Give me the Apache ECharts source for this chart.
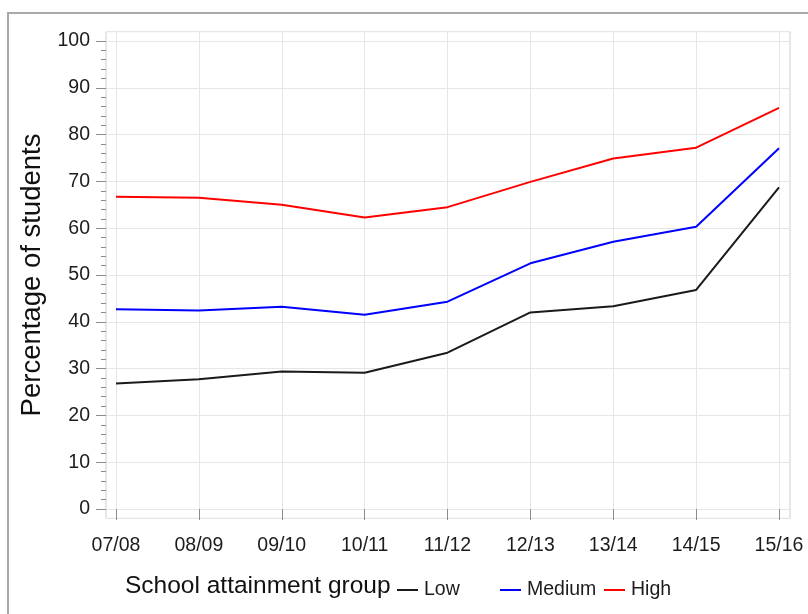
<!DOCTYPE html>
<html>
<head>
<meta charset="utf-8">
<script src="https://cdn.jsdelivr.net/npm/echarts@6/dist/echarts.min.js"></script>
<style>
html,body{margin:0;padding:0;background:#fff;}
#chart{width:808px;height:614px;}
</style>
</head>
<body>
<div id="chart"></div>
<script>
const categories = ['07/08','08/09','09/10','10/11','11/12','12/13','13/14','14/15','15/16'];
const lowValues    = [26.8, 27.7, 29.4, 29.1, 33.4, 42.0, 43.3, 46.8, 68.7];
const mediumValues = [42.7, 42.4, 43.2, 41.5, 44.3, 52.5, 57.1, 60.3, 77.1];
const highValues   = [66.7, 66.5, 65.0, 62.3, 64.5, 69.9, 74.9, 77.2, 85.7];
const seriesNames = ['Low', 'Medium', 'High'];
const yTitle = 'Percentage of students';
const legendTitle = 'School attainment group';

const FONT = '"Liberation Sans", Arial, sans-serif';
const chart = echarts.init(document.getElementById('chart'), null, {renderer: 'canvas'});

const dataLeft = 116, dataRight = 29, dataTop = 41, dataBottom = 105;
const pxPerUnitY = (614 - dataTop - dataBottom) / 100;
const boxTop = dataTop - 2 * pxPerUnitY;
const boxBottom = dataBottom - 2 * pxPerUnitY;
const catStep = (808 - dataLeft - dataRight) / (categories.length - 1);
const boxLeft = 106, boxRight = 18;
const xMin = -(dataLeft - boxLeft) / catStep;
const xMax = (categories.length - 1) + ((dataRight - boxRight) / catStep);

const tickColor = '#8c8c8c';
const textColor = '#1c1c1c';

function mkLegend(name, left) {
  return {
    data: [name], left: left, top: 580, icon: 'rect',
    itemWidth: 21, itemHeight: 2, itemGap: 0, padding: 0,
    textStyle: {fontFamily: FONT, fontSize: 19.5, color: textColor, padding: [0, 0, 0, 1]},
    selectedMode: false
  };
}

const option = {
  animation: false,
  backgroundColor: '#fff',
  title: {
    text: legendTitle, left: 125, top: 574, padding: 0,
    textStyle: {fontFamily: FONT, fontSize: 24.5, fontWeight: 'normal', color: '#111'}
  },
  legend: [mkLegend(seriesNames[0], 397), mkLegend(seriesNames[1], 500), mkLegend(seriesNames[2], 604)],
  graphic: [{
    type: 'rect', silent: true, z: -10,
    shape: {x: 8, y: 13, width: 840, height: 660},
    style: {fill: 'none', stroke: '#a9a9a9', lineWidth: 2}
  }],
  grid: [
    {left: boxLeft, right: boxRight, top: boxTop, bottom: boxBottom, show: true,
     borderColor: '#cfcfcf', borderWidth: 1, backgroundColor: 'transparent'},
    {left: dataLeft, right: dataRight, top: dataTop, bottom: dataBottom}
  ],
  xAxis: [
    {gridIndex: 0, type: 'value', min: xMin, max: xMax, splitNumber: 8,
     axisLine: {show: false}, axisTick: {show: false}, axisLabel: {show: false},
     splitLine: {show: true, lineStyle: {color: '#e6e6e6', width: 1}}},
    {gridIndex: 1, type: 'category', data: categories, boundaryGap: false,
     offset: dataBottom - boxBottom,
     axisLine: {show: false},
     axisTick: {show: true, length: 11, inside: false, lineStyle: {color: tickColor, width: 1}},
     axisLabel: {margin: 17, fontFamily: FONT, fontSize: 19.5, color: textColor},
     splitLine: {show: false}}
  ],
  yAxis: [
    {gridIndex: 0, type: 'value', min: -2, max: 102, splitNumber: 10,
     axisLine: {show: false}, axisTick: {show: false}, axisLabel: {show: false},
     splitLine: {show: true, lineStyle: {color: '#e6e6e6', width: 1}}},
    {gridIndex: 1, type: 'value', position: 'left', min: 0, max: 100, interval: 10,
     offset: dataLeft - boxLeft,
     axisLine: {show: false},
     axisTick: {show: true, length: 10, lineStyle: {color: tickColor, width: 1}},
     minorTick: {show: false},
     axisLabel: {margin: 16, fontFamily: FONT, fontSize: 19.5, color: textColor},
     splitLine: {show: false},
     name: yTitle, nameLocation: 'middle', nameGap: 57,
     nameTextStyle: {fontFamily: FONT, fontSize: 27.5, color: '#111'}},
    {gridIndex: 1, type: 'value', position: 'left', min: 0, max: 100, interval: 2,
     offset: dataLeft - boxLeft,
     axisLine: {show: false},
     axisTick: {show: true, length: 5, lineStyle: {color: tickColor, width: 1}},
     axisLabel: {show: false},
     splitLine: {show: false}}
  ],
  series: [
    {name: seriesNames[0], type: 'line', xAxisIndex: 1, yAxisIndex: 1, data: lowValues,
     symbol: 'none', color: '#1a1a1a', lineStyle: {width: 2, color: '#1a1a1a'}},
    {name: seriesNames[1], type: 'line', xAxisIndex: 1, yAxisIndex: 1, data: mediumValues,
     symbol: 'none', color: '#0000ff', lineStyle: {width: 2, color: '#0000ff'}},
    {name: seriesNames[2], type: 'line', xAxisIndex: 1, yAxisIndex: 1, data: highValues,
     symbol: 'none', color: '#ff0000', lineStyle: {width: 2, color: '#ff0000'}}
  ]
};
chart.setOption(option);
</script>
</body>
</html>
